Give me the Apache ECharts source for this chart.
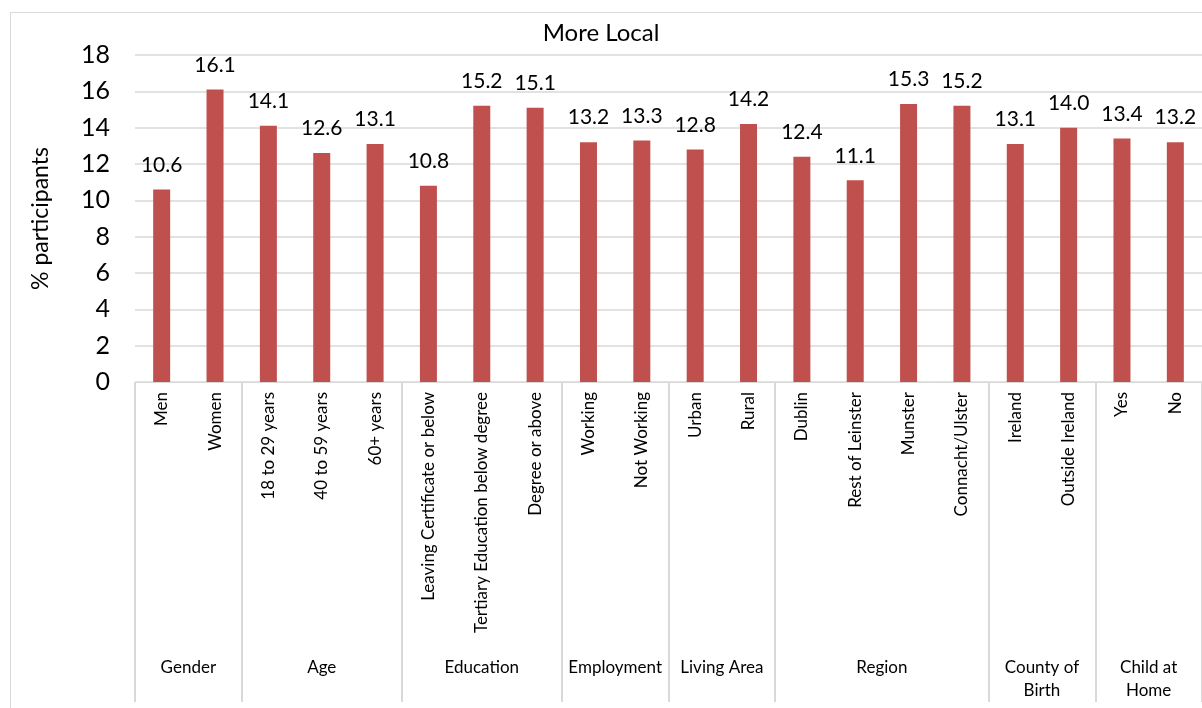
<!DOCTYPE html>
<html><head><meta charset="utf-8">
<script src="https://cdn.jsdelivr.net/npm/echarts@6/dist/echarts.min.js"></script>
<style>
html,body{margin:0;padding:0;background:#fff;}
#frame{position:absolute;left:10px;top:12px;width:1200px;height:700px;border:1px solid #d9d9d9;box-sizing:border-box;}
#c{position:absolute;left:0;top:0;width:1202px;height:708px;}
</style></head>
<body><div id="frame"></div><div id="c"></div>
<script>
const categories = ["Men","Women","18 to 29 years","40 to 59 years","60+ years","Leaving Certificate or below","Tertiary Education below degree","Degree or above","Working","Not Working","Urban","Rural","Dublin","Rest of Leinster","Munster","Connacht/Ulster","Ireland","Outside Ireland","Yes","No"];
const values = [10.6,16.1,14.1,12.6,13.1,10.8,15.2,15.1,13.2,13.3,12.8,14.2,12.4,11.1,15.3,15.2,13.1,14.0,13.4,13.2];
const groupNames = ["Gender","Age","Education","Employment","Living Area","Region","County of\nBirth","Child at\nHome"];
const groupSizes = [2,3,3,2,2,4,2,2];
const yTicks = [0,2,4,6,8,10,12,14,16,18];

const bounds=[0]; groupSizes.forEach(s=>bounds.push(bounds[bounds.length-1]+s));
const centers = groupSizes.map((s,i)=>bounds[i]+s/2);
const font = "Lato, 'Open Sans', sans-serif";
const chart = echarts.init(document.getElementById('c'));
chart.setOption({
  animation:false,
  textStyle:{fontFamily:font},
  title:{text:'More Local',left:'center',top:16,textStyle:{fontSize:24,fontWeight:'normal',color:'#000',fontFamily:font}},
  grid:{left:135,right:0,top:55,bottom:326,containLabel:false},
  xAxis:[{
    type:'category',data:categories,
    axisLine:{lineStyle:{color:'#d9d9d9',width:1}},
    axisTick:{show:false},
    axisLabel:{rotate:90,interval:0,fontSize:17,color:'#000',margin:10,fontFamily:font}
  },{
    type:'value',min:0,max:20,position:'bottom',
    axisLine:{show:false},splitLine:{show:false},
    axisTick:{show:true,length:320,inside:false,customValues:bounds,lineStyle:{color:'#d9d9d9',width:2}},
    axisLabel:{customValues:centers,margin:274,fontSize:17,color:'#000',lineHeight:23,fontFamily:font,
      formatter:function(v){const i=centers.findIndex(c=>Math.abs(c-v)<1e-6);return i>=0?groupNames[i]:'';}}
  }],
  yAxis:{type:'value',min:0,max:18,interval:2,
    name:'% participants',nameLocation:'middle',nameGap:83,nameRotate:90,
    nameTextStyle:{fontSize:23,color:'#000',fontFamily:font},
    axisLine:{show:false},axisTick:{show:false},
    axisLabel:{fontSize:25,color:'#000',margin:25,fontFamily:font},
    splitLine:{lineStyle:{color:'#d9d9d9',width:1.5}}},
  series:[{type:'bar',data:values,barWidth:17,xAxisIndex:0,
    itemStyle:{color:'#c0504d'},
    label:{show:true,position:'top',distance:14,fontSize:21,color:'#000',fontFamily:font,
      formatter:p=>p.value.toFixed(1)}}]
});
</script></body></html>
